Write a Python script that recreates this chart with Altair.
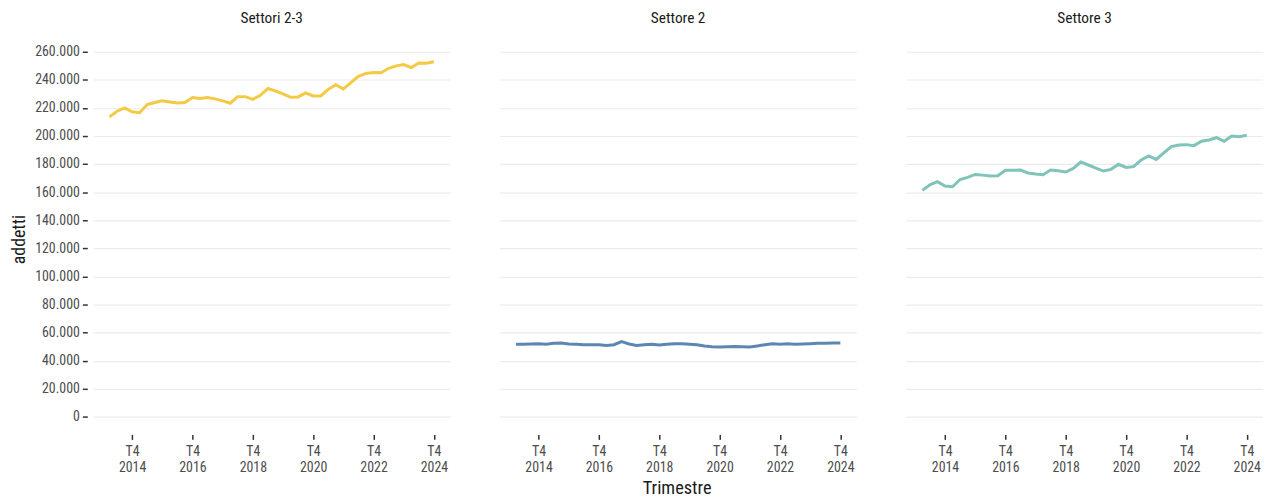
import altair as alt
import pandas as pd

# Quarterly periods 2014 T1 .. 2024 T4 (encoded as year + (quarter-1)/4)
anni = list(range(2014, 2025))
trimestri = [1, 2, 3, 4]
periodi = [a + (t - 1) / 4 for a in anni for t in trimestri]

settori_2_3 = [213.6, 217.6, 220.0, 217.2, 216.5, 222.4, 223.8, 225.0, 224.2, 223.5, 223.8,
               227.3, 226.6, 227.3, 226.4, 225.0, 223.3, 228.0, 228.0, 226.1, 228.9, 233.9,
               232.0, 229.9, 227.5, 227.8, 230.6, 228.5, 228.5, 233.2, 236.5, 233.4, 237.9,
               242.4, 244.5, 245.2, 245.0, 248.2, 249.9, 250.8, 248.7, 252.0, 251.8, 252.9]
settore_2 = [51.6, 51.6, 51.8, 52.0, 51.6, 52.3, 52.5, 51.8, 51.6, 51.3, 51.3, 51.3, 50.8,
             51.3, 53.5, 51.8, 50.8, 51.3, 51.6, 51.1, 51.6, 52.0, 52.0, 51.6, 51.3, 50.4,
             49.9, 49.6, 49.9, 50.1, 49.9, 49.6, 50.4, 51.3, 52.0, 51.6, 52.0, 51.6, 51.8,
             52.0, 52.3, 52.3, 52.5, 52.5]
settore_3 = [161.2, 165.2, 167.4, 164.3, 163.8, 169.0, 170.5, 172.6, 172.1, 171.4, 171.7,
             175.5, 175.5, 175.7, 173.6, 172.9, 172.4, 175.7, 175.2, 174.3, 176.9, 181.4,
             179.3, 177.1, 175.0, 176.2, 179.8, 177.6, 178.1, 182.9, 185.7, 183.3, 187.9,
             192.4, 193.6, 193.8, 193.1, 196.2, 197.1, 198.8, 196.2, 200.0, 199.5, 200.5]

pannelli = ["Settori 2-3", "Settore 2", "Settore 3"]
colori = ["#F4C944", "#5E86B2", "#7FC3B9"]
tick_x = [2014.75, 2016.75, 2018.75, 2020.75, 2022.75, 2024.75]
tick_y = list(range(0, 260001, 20000))

rows = []
for nome, serie in zip(pannelli, [settori_2_3, settore_2, settore_3]):
    for p, v in zip(periodi, serie):
        rows.append({"settore": nome, "periodo": p, "addetti": v * 1000})
df = pd.DataFrame(rows)

FONT = "Roboto Condensed, Liberation Sans Narrow, Roboto, sans-serif"

line = alt.Chart(df).mark_line(strokeWidth=3).encode(
    x=alt.X("periodo:Q", title=None,
            scale=alt.Scale(domain=[2013.4625, 2025.2875], nice=False, zero=False),
            axis=alt.Axis(values=tick_x, grid=False, domain=False,
                          labelExpr="['T4', toString(floor(datum.value))]",
                          tickSize=5, tickWidth=1.5, tickColor="#333333",
                          labelColor="#4D4D4D", labelFontSize=14, labelPadding=5,
                          labelLineHeight=16, labelFont=FONT)),
    y=alt.Y("addetti:Q", title="addetti",
            scale=alt.Scale(domain=[-12600, 265600], nice=False, zero=False),
            axis=alt.Axis(values=tick_y, domain=False, offset=3,
                          labelExpr="replace(format(datum.value, ','), ',', '.')",
                          tickSize=5, tickWidth=1.5, tickColor="#333333",
                          gridColor="#EBEBEB", gridWidth=1.2,
                          labelColor="#4D4D4D", labelFontSize=14, labelPadding=3,
                          labelFont=FONT, titleFont=FONT,
                          titleFontSize=18, titleFontWeight="normal", titleColor="#1a1a1a",
                          titlePadding=6)),
    color=alt.Color("settore:N", scale=alt.Scale(domain=pannelli, range=colori), legend=None),
).properties(width=360, height=394)

chart = line.facet(
    column=alt.Column("settore:N", sort=pannelli, title="Trimestre",
                      header=alt.Header(labelFontSize=15.5, labelColor="#1a1a1a",
                                        labelFont=FONT, labelPadding=18, labelOrient="top",
                                        titleOrient="bottom", titleFont=FONT,
                                        titleFontSize=18.5, titleFontWeight="normal",
                                        titleColor="#1a1a1a", titlePadding=-5))
).properties(
    padding={"left": 2, "right": 0, "top": 0, "bottom": 0}
).configure(font=FONT).configure_facet(spacing=47).configure_view(stroke=None)

chart.save("out.html", embed_options={"renderer": "svg", "actions": False})
